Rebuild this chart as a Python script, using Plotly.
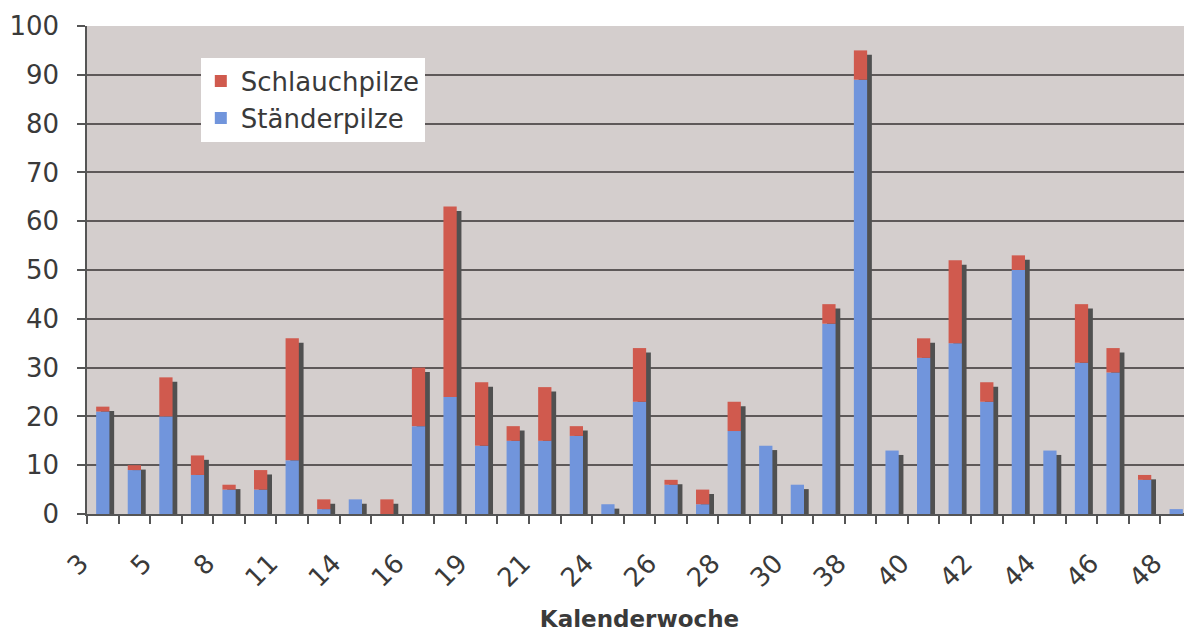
import plotly.graph_objects as go

# Categories (calendar weeks); only every other one is labelled on the axis
weeks = ["3", "4", "5", "6", "8", "9", "11", "12", "14", "15", "16", "17",
         "19", "20", "21", "22", "24", "25", "26", "27", "28", "29", "30",
         "37", "38", "39", "40", "41", "42", "43", "44", "45", "46", "47", "48"]
shown_labels = ["3", "5", "8", "11", "14", "16", "19", "21", "24", "26", "28",
                "30", "38", "40", "42", "44", "46", "48"]

# Ständerpilze (blue, bottom) and Schlauchpilze (red, top) counts
staenderpilze = [21, 9, 20, 8, 5, 5, 11, 1, 3, 0, 18, 24, 14, 15, 15, 16, 2,
                 23, 6, 2, 17, 14, 6, 39, 89, 13, 32, 35, 23, 50, 13, 31, 29,
                 7, 1]
schlauchpilze = [1, 1, 8, 4, 1, 4, 25, 2, 0, 3, 12, 39, 13, 3, 11, 2, 0,
                 11, 1, 3, 6, 0, 0, 4, 6, 0, 4, 17, 4, 3, 0, 12, 5, 1, 0]

RED = "#d05a4e"
BLUE = "#7195dc"
SHADOW = "#505050"
TEXT = "#3a3a3a"
FONT = "DejaVu Sans"

totals = [b + r for b, r in zip(staenderpilze, schlauchpilze)]
shadow_h = [max(t - 0.9, 0) for t in totals]
ticktext = [w if w in shown_labels else "" for w in weeks]

BAR_W = 0.42

fig = go.Figure()
# drop shadow behind each stacked bar
fig.add_trace(go.Bar(x=weeks, y=shadow_h, width=BAR_W, offset=-BAR_W / 2 + 0.15,
                     marker=dict(color=SHADOW, line=dict(width=0)),
                     showlegend=False, hoverinfo="skip"))
fig.add_trace(go.Bar(x=weeks, y=staenderpilze, width=BAR_W, name="Ständerpilze",
                     marker=dict(color=BLUE, line=dict(width=0)), showlegend=False))
fig.add_trace(go.Bar(x=weeks, y=schlauchpilze, base=staenderpilze, width=BAR_W,
                     name="Schlauchpilze",
                     marker=dict(color=RED, line=dict(width=0)), showlegend=False))
# legend entries
fig.add_trace(go.Scatter(x=[None], y=[None], mode="markers", name="Schlauchpilze",
                         marker=dict(symbol="square", size=16, color=RED)))
fig.add_trace(go.Scatter(x=[None], y=[None], mode="markers", name="Ständerpilze",
                         marker=dict(symbol="square", size=16, color=BLUE)))

# the page adds an 8px body margin, so the figure is sized/margined to compensate
fig.update_layout(
    width=1184, height=624,
    margin=dict(l=79, r=0, t=18, b=118),
    barmode="overlay",
    paper_bgcolor="white",
    plot_bgcolor="#d4cecd",
    font=dict(family=FONT, color=TEXT),
    legend=dict(x=0.103, y=0.935, xanchor="left", yanchor="top",
                bgcolor="white", borderwidth=0,
                font=dict(size=26, color=TEXT, family=FONT),
                traceorder="normal", itemsizing="constant"),
    xaxis=dict(type="category", categoryorder="array", categoryarray=weeks,
               tickmode="array", tickvals=weeks, ticktext=ticktext,
               tickangle=-45, tickson="boundaries", ticks="outside",
               ticklen=8, tickcolor="#555555", tickwidth=1.5,
               showline=True, linecolor="#555555", linewidth=1.5,
               showgrid=False, range=[-0.5, len(weeks) - 0.5],
               automargin=False, ticklabelstandoff=22, ticklabelshift=-22,
               tickfont=dict(size=26, color=TEXT, family=FONT),
               title=dict(text="<b>Kalenderwoche</b>", standoff=21,
                          font=dict(size=23, color=TEXT, family=FONT))),
    yaxis=dict(range=[0, 100], dtick=10, tick0=0,
               ticks="outside", ticklen=8, tickcolor="#555555", tickwidth=1.5,
               showline=True, linecolor="#555555", linewidth=1.5,
               showgrid=True, gridcolor="#5e5959", gridwidth=1.5,
               zeroline=False, ticklabelstandoff=13, automargin=False,
               tickfont=dict(size=26, color=TEXT, family=FONT)),
)

fig.write_html("out.html")
